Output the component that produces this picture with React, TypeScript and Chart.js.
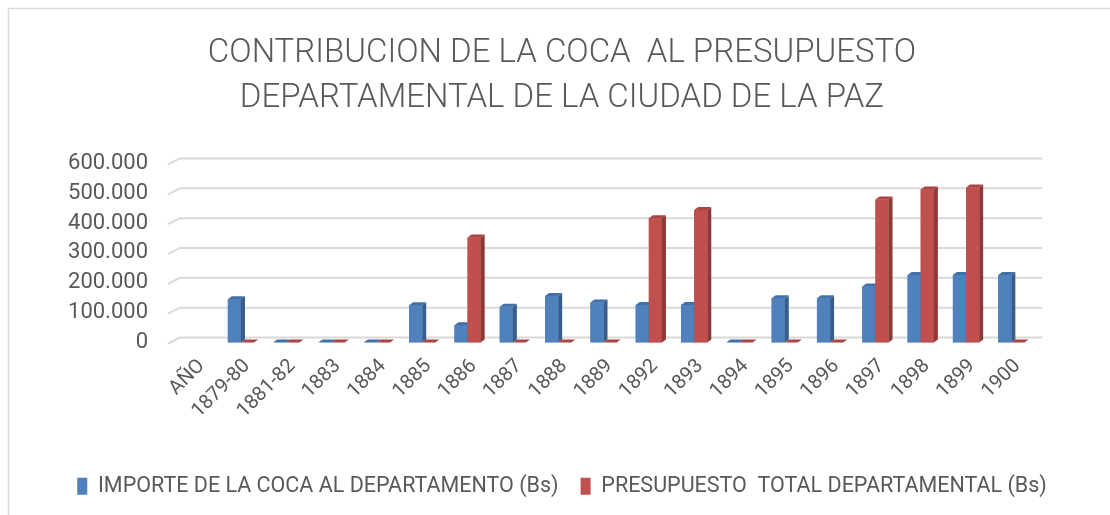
import React, { useEffect, useRef } from 'react';
import { Chart, registerables } from 'chart.js';

Chart.register(...registerables);

const categories = ['AÑO', '1879-80', '1881-82', '1883', '1884', '1885', '1886', '1887', '1888', '1889', '1892', '1893', '1894', '1895', '1896', '1897', '1898', '1899', '1900'];
const importeCoca = [null, 145000, 0, 0, 0, 125000, 58000, 120000, 156000, 134000, 126000, 126000, 0, 148000, 148000, 188000, 226000, 226000, 226000];
const presupuestoTotal = [null, 0, 0, 0, 0, 0, 352000, 0, 0, 0, 416000, 444000, 0, 0, 0, 479000, 513000, 519000, 0];
const seriesNames = ['IMPORTE DE LA COCA AL DEPARTAMENTO (Bs)', 'PRESUPUESTO  TOTAL DEPARTAMENTAL (Bs)'];
const titleLines = ['CONTRIBUCION DE LA COCA  AL PRESUPUESTO', 'DEPARTAMENTAL DE LA CIUDAD DE LA PAZ'];
const yTicks = [0, 100000, 200000, 300000, 400000, 500000, 600000];

const FONT = 'Roboto, "Open Sans", sans-serif';
const TEXT = '#595959';
const frontColors = ['#4f81bd', '#c0504d'];
const sideColors = ['#385d8a', '#8b3a38'];
const topColors = ['#416fa8', '#a84542'];

const fmt = (v: number) => String(v).replace(/\B(?=(\d{3})+(?!\d))/g, '.');

const frame = {
  id: 'frame',
  beforeDraw(chart: any) {
    const ctx = chart.ctx;
    ctx.save();
    ctx.fillStyle = '#ffffff';
    ctx.fillRect(0, 0, chart.width, chart.height);
    ctx.strokeStyle = '#d9d9d9';
    ctx.lineWidth = 1.5;
    ctx.strokeRect(8.5, 8.5, chart.width + 20, chart.height + 20);
    ctx.restore();
  },
};

const wallGrid = {
  id: 'wallGrid',
  beforeDatasetsDraw(chart: any) {
    const ctx = chart.ctx;
    const y = chart.scales.y;
    const { left, right } = chart.chartArea;
    ctx.save();
    ctx.strokeStyle = '#d9d9d9';
    ctx.lineWidth = 2;
    y.ticks.forEach((t: any) => {
      const py = y.getPixelForValue(t.value);
      ctx.beginPath();
      ctx.moveTo(left - 5, py + 1);
      ctx.lineTo(left + 7, py - 5);
      ctx.lineTo(right + 8, py - 5);
      ctx.stroke();
    });
    ctx.restore();
  },
};

const bar3d = {
  id: 'bar3d',
  afterDatasetsDraw(chart: any) {
    const ctx = chart.ctx;
    const dx = 4;
    const dy = 3;
    ctx.save();
    const n = chart.data.labels.length;
    for (let i = 0; i < n; i++) {
      chart.data.datasets.forEach((ds: any, di: number) => {
        const raw = ds.data[i];
        if (raw === null || raw === undefined) return;
        const el = chart.getDatasetMeta(di).data[i];
        if (!el) return;
        const p = el.getProps(['x', 'y', 'base', 'width'], true);
        if (!isFinite(p.y) || !isFinite(p.base)) return;
        const l = p.x - p.width / 2;
        const r = p.x + p.width / 2;
        const top = Math.min(p.y, p.base);
        const bot = Math.max(p.y, p.base);
        ctx.fillStyle = frontColors[di];
        ctx.fillRect(l, top, r - l, bot - top);
        ctx.fillStyle = sideColors[di];
        ctx.beginPath();
        ctx.moveTo(r, top);
        ctx.lineTo(r + dx, top - dy);
        ctx.lineTo(r + dx, bot - dy);
        ctx.lineTo(r, bot);
        ctx.closePath();
        ctx.fill();
        ctx.fillStyle = topColors[di];
        ctx.beginPath();
        ctx.moveTo(l, top);
        ctx.lineTo(l + dx, top - dy);
        ctx.lineTo(r + dx, top - dy);
        ctx.lineTo(r, top);
        ctx.closePath();
        ctx.fill();
      });
    }
    ctx.restore();
  },
};

export default function App() {
  const ref = useRef<HTMLCanvasElement | null>(null);

  useEffect(() => {
    if (!ref.current) return;
    const chart = new Chart(ref.current, {
      type: 'bar',
      data: {
        labels: categories,
        datasets: [
          {
            label: seriesNames[0],
            data: importeCoca,
            backgroundColor: frontColors[0],
            barPercentage: 1,
            categoryPercentage: 0.58,
          },
          {
            label: seriesNames[1],
            data: presupuestoTotal,
            backgroundColor: frontColors[1],
            barPercentage: 1,
            categoryPercentage: 0.58,
          },
        ],
      },
      options: {
        responsive: true,
        maintainAspectRatio: false,
        animation: false,
        layout: { padding: { left: 14, right: 0, top: 0, bottom: 8 } },
        plugins: {
          title: {
            display: true,
            text: titleLines,
            color: TEXT,
            font: { family: FONT, size: 33, weight: '300', lineHeight: 1.34 },
            padding: { top: 32, bottom: 43 },
          },
          legend: {
            position: 'bottom',
            labels: {
              boxWidth: 10,
              boxHeight: 17,
              color: TEXT,
              font: { family: FONT, size: 21.5 },
              padding: 22,
            },
          },
          tooltip: { enabled: false },
        },
        scales: {
          x: {
            grid: { display: false, drawTicks: false },
            border: { display: false },
            ticks: {
              color: TEXT,
              font: { family: FONT, size: 20 },
              minRotation: 45,
              maxRotation: 45,
              autoSkip: false,
              padding: 12,
              labelOffset: 6,
            },
            afterFit: (s: any) => {
              s.height = 111;
            },
          },
          y: {
            min: yTicks[0],
            max: yTicks[yTicks.length - 1],
            grid: { display: false, drawTicks: false },
            border: { display: false },
            ticks: {
              color: TEXT,
              font: { family: FONT, size: 22 },
              padding: 25,
              autoSkip: false,
              callback: (v: any) => fmt(Number(v)),
            },
            afterBuildTicks: (s: any) => {
              s.ticks = yTicks.map((v) => ({ value: v }));
            },
            afterFit: (s: any) => {
              s.width = 159;
            },
          },
          yRight: {
            position: 'right',
            display: true,
            grid: { display: false, drawTicks: false },
            border: { display: false },
            ticks: { display: false },
            afterFit: (s: any) => {
              s.width = 76;
            },
          },
        },
      },
      plugins: [frame, wallGrid, bar3d],
    });
    return () => chart.destroy();
  }, []);

  return (
    <div style={{ position: 'fixed', left: 0, top: 0, width: 1110, height: 515, background: '#fff' }}>
      <canvas ref={ref} />
    </div>
  );
}
